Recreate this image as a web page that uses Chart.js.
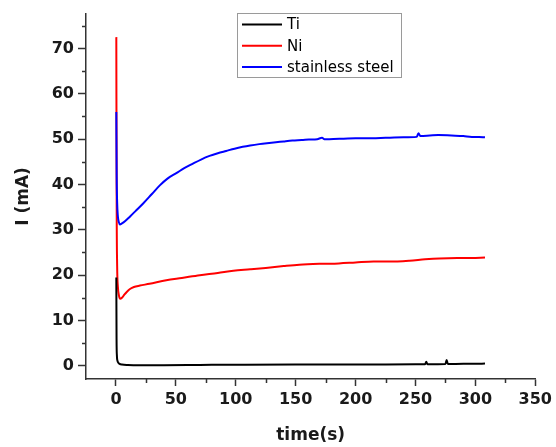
<!DOCTYPE html>
<html>
<head>
<meta charset="utf-8">
<script src="https://cdn.jsdelivr.net/npm/chart.js@4/dist/chart.umd.min.js"></script>
<style>
  body { margin: 0; background: #fff; }
  canvas { display: block; }
</style>
</head>
<body>
<canvas id="grafico" width="556" height="447"></canvas>
<script>
// dados (tempo em s, corrente em mA)
const tempoTi = [0.3, 0.5, 0.8, 1.2, 2, 3, 5, 10, 20, 40, 70, 100, 150, 200, 250, 258, 259, 260, 275, 276, 277, 290, 300, 308];
const correnteTi = [19.5, 6, 2.2, 1.2, 0.7, 0.45, 0.3, 0.2, 0.15, 0.15, 0.2, 0.25, 0.3, 0.3, 0.35, 0.35, 0.9, 0.35, 0.4, 1.3, 0.4, 0.45, 0.45, 0.5];

const tempoNi = [0.3, 0.6, 1, 1.6, 2.5, 3.5, 5, 7, 9, 12, 15, 20, 28, 42, 55, 70, 85, 98, 112, 125, 140, 153, 170, 186, 200, 215, 228, 245, 258, 270, 285, 297, 308];
const correnteNi = [72.5, 35, 22, 17.5, 15.5, 14.8, 15.0, 15.7, 16.3, 17.0, 17.4, 17.7, 18.1, 18.9, 19.4, 20.0, 20.5, 21.0, 21.3, 21.6, 22.0, 22.3, 22.5, 22.6, 22.8, 23.0, 23.0, 23.2, 23.5, 23.7, 23.8, 23.8, 23.9];

const tempoInox = [0.3, 0.6, 1, 1.6, 2.4, 3.3, 5, 8, 11.6, 17, 22.7, 30, 36.6, 43, 50.4, 57, 64.2, 71, 78.1, 85, 92, 99, 105.8, 112, 119.6, 126, 133.5, 140, 147.3, 155, 161, 168, 172, 174, 178, 190, 200, 214, 225, 240, 251, 252.5, 254, 262, 269, 280, 290, 297, 303, 308];
const correnteInox = [56, 42, 36, 33, 31.7, 31.2, 31.4, 32.0, 32.9, 34.3, 35.8, 37.9, 39.8, 41.3, 42.5, 43.6, 44.6, 45.5, 46.3, 46.9, 47.4, 47.9, 48.3, 48.6, 48.9, 49.1, 49.3, 49.5, 49.7, 49.8, 49.9, 50.0, 50.3, 50.0, 50.0, 50.1, 50.2, 50.2, 50.3, 50.4, 50.5, 51.3, 50.7, 50.8, 50.9, 50.8, 50.7, 50.5, 50.5, 50.4];

const nomes = ["Ti", "Ni", "stainless steel"];
const cores = ["#000000", "#ff0000", "#0000ff"];

const ticksX = [0, 50, 100, 150, 200, 250, 300, 350];
const ticksY = [0, 10, 20, 30, 40, 50, 60, 70];
const menoresX = [25, 75, 125, 175, 225, 275, 325];
const menoresY = [5, 15, 25, 35, 45, 55, 65, 75];

function juntaPontos(xs, ys){
    let pontos = [];
    for(let i=0; i<xs.length; i++){
        pontos[i] = {x: xs[i], y: ys[i]};
    }
    return pontos;
}

const corEixo = "#333333";
const fonteTicks = {family: "DejaVu Sans", weight: "bold", size: 16};
const fonteTitulo = {family: "DejaVu Sans", weight: "bold", size: 17};

// ticks menores (estilo Origin)
const pluginMenores = {
    id: "menores",
    afterDraw(chart){
        const ctx = chart.ctx;
        const sx = chart.scales.x;
        const sy = chart.scales.y;
        const area = chart.chartArea;
        ctx.save();
        ctx.strokeStyle = corEixo;
        ctx.lineWidth = 1.5;
        ctx.beginPath();
        menoresX.forEach(v => {
            const px = Math.round(sx.getPixelForValue(v)) + 0.5;
            ctx.moveTo(px, area.bottom);
            ctx.lineTo(px, area.bottom + 4);
        });
        menoresY.forEach(v => {
            const py = Math.round(sy.getPixelForValue(v)) + 0.5;
            ctx.moveTo(area.left, py);
            ctx.lineTo(area.left - 4, py);
        });
        ctx.stroke();
        ctx.restore();
    }
};

// legenda com caixa
const pluginLegenda = {
    id: "legendaCaixa",
    afterDraw(chart){
        const ctx = chart.ctx;
        ctx.save();
        ctx.strokeStyle = "#9a9a9a";
        ctx.lineWidth = 1;
        ctx.strokeRect(237.5, 13.5, 164, 64);
        ctx.font = "15px 'DejaVu Sans'";
        ctx.textBaseline = "middle";
        ctx.fillStyle = "#000";
        chart.data.datasets.forEach((ds, i) => {
            const y = 24.5 + i * 21.3;
            ctx.strokeStyle = ds.borderColor;
            ctx.lineWidth = 2;
            ctx.beginPath();
            ctx.moveTo(242, y);
            ctx.lineTo(282, y);
            ctx.stroke();
            ctx.fillText(ds.label, 287, y + 1);
        });
        ctx.restore();
    }
};

function criaGrafico(){
    const canvas = document.getElementById("grafico");
    const series = [[tempoTi, correnteTi], [tempoNi, correnteNi], [tempoInox, correnteInox]];
    const ordens = [2, 3, 1];
    const datasets = [];
    for(let i=0; i<series.length; i++){
        datasets[i] = {
            label: nomes[i],
            data: juntaPontos(series[i][0], series[i][1]),
            borderColor: cores[i],
            backgroundColor: cores[i],
            borderWidth: 2,
            pointRadius: 0,
            cubicInterpolationMode: "monotone",
            order: ordens[i]
        };
    }
    new Chart(canvas, {
        type: "line",
        data: {datasets: datasets},
        options: {
            responsive: false,
            animation: false,
            events: [],
            layout: {padding: {left: 0, top: 14, right: 19, bottom: 0}},
            plugins: {legend: {display: false}, tooltip: {enabled: false}},
            scales: {
                x: {
                    type: "linear",
                    min: -25,
                    max: 350,
                    afterFit: s => { s.height = 68; },
                    afterBuildTicks: s => { s.ticks = ticksX.map(v => ({value: v})); },
                    border: {display: true, color: corEixo, width: 1.5},
                    grid: {drawOnChartArea: false, drawTicks: true, tickLength: 7, tickColor: corEixo, tickWidth: 1.5},
                    ticks: {font: fonteTicks, color: "#1a1a1a", padding: 4, maxRotation: 0, autoSkip: false},
                    title: {display: true, text: "time(s)", font: fonteTitulo, color: "#1a1a1a", padding: {top: 0, bottom: 1}}
                },
                y: {
                    type: "linear",
                    min: -2.9,
                    max: 77.6,
                    afterFit: s => { s.width = 86; },
                    afterBuildTicks: s => { s.ticks = ticksY.map(v => ({value: v})); },
                    border: {display: true, color: corEixo, width: 1.5},
                    grid: {drawOnChartArea: false, drawTicks: true, tickLength: 8, tickColor: corEixo, tickWidth: 1.5},
                    ticks: {font: fonteTicks, color: "#1a1a1a", padding: 4, autoSkip: false},
                    title: {display: true, text: "I (mA)", font: fonteTitulo, color: "#1a1a1a", padding: {top: 13, bottom: 0}}
                }
            }
        },
        plugins: [pluginMenores, pluginLegenda]
    });
}

criaGrafico();
</script>
</body>
</html>
